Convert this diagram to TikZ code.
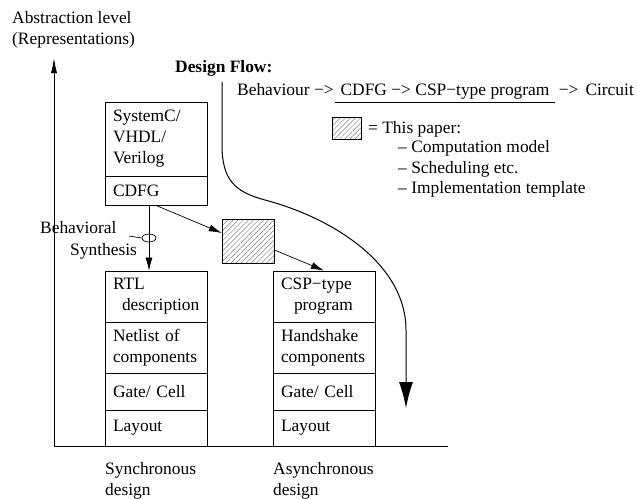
\documentclass[tikz,border=0pt]{standalone}
\usepackage{fontspec}
\setmainfont{Liberation Serif}
\usetikzlibrary{arrows.meta,patterns.meta,calc,shapes.geometric}
\begin{document}
\begin{tikzpicture}[x=1pt,y=-1pt,
  every node/.style={font=\fontsize{17.4}{21}\selectfont},
  sec/.style={draw, line width=0.8pt, text width=86pt, inner xsep=8pt, inner ysep=0pt, align=left, minimum width=102pt},
  hatch/.style={draw, line width=0.6pt, pattern={Lines[angle=45,distance=3.6pt,line width=0.5pt]}, pattern color=gray, inner sep=0pt},
  arr/.style={line width=0.7pt, -{Latex[length=13pt,width=7pt]}},
  txt/.style={anchor=base west, inner sep=0pt}]
\useasboundingbox (0,0) rectangle (637,499);

% axes
\coordinate (org) at (54,446);
\coordinate (ytop) at (54,58);
\coordinate (xend) at (448,446);
\draw[line width=0.8pt, -{Latex[length=15pt,width=6pt]}] (org) -- (ytop);
\draw[line width=0.8pt] (org) -- (xend);

\node[txt] (al1) at (12,23) {Abstraction level};
\node[txt] (al2) at (12,44) {(Representations)};

% left column
\node[sec, minimum height=74pt] (hdl) at (156,139) {SystemC/\\VHDL/\\Verilog};
\node[sec, minimum height=29pt] (cdfg) at (156,190.5) {CDFG};
\node[sec, minimum height=51pt] (rtl) at (156,296.5) {RTL\\\hspace*{9pt}\mbox{description}};
\node[sec, minimum height=51pt] (netl) at (156,347.5) {Netlist of\\components};
\node[sec, minimum height=37pt] (gatel) at (156,391.5) {Gate/ Cell};
\node[sec, minimum height=36pt] (layl) at (156,428) {Layout};

% right column
\node[sec, minimum height=51pt] (csp) at (324,296.5) {CSP−type\\\hspace*{13pt}program};
\node[sec, minimum height=51pt] (hs) at (324,347.5) {Handshake\\components};
\node[sec, minimum height=37pt] (gater) at (324,391.5) {Gate/ Cell};
\node[sec, minimum height=36pt] (layr) at (324,428) {Layout};

% hatched box
\node[hatch, minimum width=52pt, minimum height=44pt] (paper) at (248,241) {};

% synthesis
\node[draw, ellipse, line width=0.7pt, minimum width=14pt, minimum height=8pt, inner sep=0pt] (syn) at (149,238) {};
\draw[arr] (syn |- cdfg.south) -- (syn |- rtl.north);
\node[txt] (beh) at (40,233) {Behavioral};
\node[txt] (synt) at (70,255) {Synthesis};
\coordinate (behl) at (129,236);
\draw[line width=0.7pt] (behl) -- (syn.west);

\draw[arr] (cdfg.south) -- ($(paper.north west)!0.32!(paper.south west)$);
\draw[arr] ($(paper.north east)!0.7!(paper.south east)$) -- (csp.north);

% bottom labels
\node[txt] (sy1) at (105,474) {Synchronous};
\node[txt] (sy2) at (105,495) {design};
\node[txt] (as1) at (273,474) {Asynchronous};
\node[txt] (as2) at (273,495) {design};

% design flow
\node[txt, font=\fontsize{17.4}{21}\selectfont\bfseries] (df) at (175,72) {Design Flow:};
\node[txt] (f1) at (237,95) {Behaviour\hspace{4.4pt}−>};
\node[anchor=base west, inner xsep=5pt, inner ysep=0pt] (f2) at ([xshift=1.5pt]f1.base east) {CDFG\hspace{4.4pt}−>\hspace{4.4pt}CSP−type program};
\node[anchor=base west, inner sep=0pt] (f3) at ([xshift=4pt]f2.base east) {−>\hspace{7pt}Circuit};
\draw[line width=0.8pt] ([yshift=-7pt]f2.base west) -- ([yshift=-7pt]f2.base east);

\coordinate (dfs) at (222,82);
\coordinate (dfe) at (406,408);
\draw[line width=1pt, -{Latex[length=26pt,width=14pt]}] (dfs) -- (222,145) .. controls (222,180) and (235,192) .. (265,200) .. controls (333,218) and (406,264) .. (406,330) -- (dfe);

% legend
\node[hatch, minimum width=29pt, minimum height=22pt] (leg) at (346.5,128) {};
\node[txt] (lt) at (368,133) {= This paper:};
\node[txt] (l1) at (398,152.5) {– Computation model};
\node[txt] (l2) at (398,173) {– Scheduling etc.};
\node[txt] (l3) at (398,193.5) {– Implementation template};
\end{tikzpicture}
\end{document}
